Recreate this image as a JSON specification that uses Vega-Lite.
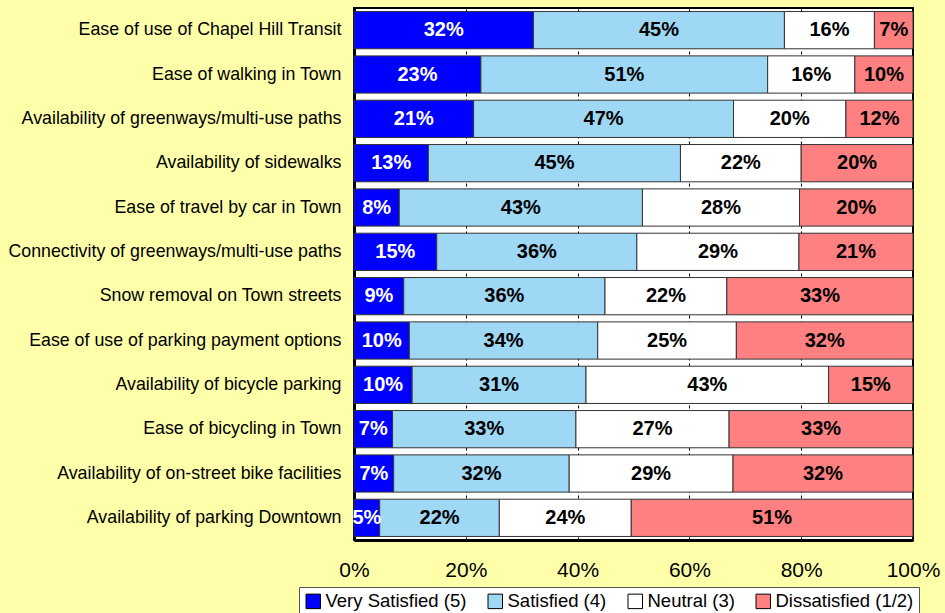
{
  "$schema": "https://vega.github.io/schema/vega-lite/v6.json",
  "autosize": {"type": "none"},
  "padding": {"left": 354, "top": 8, "right": 32, "bottom": 73},
  "width": 559,
  "height": 532,
  "background": "#FFFFAA",
  "config": {
    "font": "Liberation Sans",
    "view": {"fill": "white", "stroke": "black", "strokeWidth": 2}
  },
  "data": {
    "values": [
      {"item": "Ease of use of Chapel Hill Transit", "group": "Very Satisfied (5)", "value": 32.1, "label": "32%"},
      {"item": "Ease of use of Chapel Hill Transit", "group": "Satisfied (4)", "value": 44.9, "label": "45%"},
      {"item": "Ease of use of Chapel Hill Transit", "group": "Neutral (3)", "value": 16.1, "label": "16%"},
      {"item": "Ease of use of Chapel Hill Transit", "group": "Dissatisfied (1/2)", "value": 6.9, "label": "7%"},
      {"item": "Ease of walking in Town", "group": "Very Satisfied (5)", "value": 22.7, "label": "23%"},
      {"item": "Ease of walking in Town", "group": "Satisfied (4)", "value": 51.3, "label": "51%"},
      {"item": "Ease of walking in Town", "group": "Neutral (3)", "value": 15.6, "label": "16%"},
      {"item": "Ease of walking in Town", "group": "Dissatisfied (1/2)", "value": 10.4, "label": "10%"},
      {"item": "Availability of greenways/multi-use paths", "group": "Very Satisfied (5)", "value": 21.4, "label": "21%"},
      {"item": "Availability of greenways/multi-use paths", "group": "Satisfied (4)", "value": 46.5, "label": "47%"},
      {"item": "Availability of greenways/multi-use paths", "group": "Neutral (3)", "value": 20.1, "label": "20%"},
      {"item": "Availability of greenways/multi-use paths", "group": "Dissatisfied (1/2)", "value": 12.0, "label": "12%"},
      {"item": "Availability of sidewalks", "group": "Very Satisfied (5)", "value": 13.3, "label": "13%"},
      {"item": "Availability of sidewalks", "group": "Satisfied (4)", "value": 45.1, "label": "45%"},
      {"item": "Availability of sidewalks", "group": "Neutral (3)", "value": 21.6, "label": "22%"},
      {"item": "Availability of sidewalks", "group": "Dissatisfied (1/2)", "value": 20.0, "label": "20%"},
      {"item": "Ease of travel by car in Town", "group": "Very Satisfied (5)", "value": 8.1, "label": "8%"},
      {"item": "Ease of travel by car in Town", "group": "Satisfied (4)", "value": 43.5, "label": "43%"},
      {"item": "Ease of travel by car in Town", "group": "Neutral (3)", "value": 28.1, "label": "28%"},
      {"item": "Ease of travel by car in Town", "group": "Dissatisfied (1/2)", "value": 20.3, "label": "20%"},
      {"item": "Connectivity of greenways/multi-use paths", "group": "Very Satisfied (5)", "value": 14.8, "label": "15%"},
      {"item": "Connectivity of greenways/multi-use paths", "group": "Satisfied (4)", "value": 35.8, "label": "36%"},
      {"item": "Connectivity of greenways/multi-use paths", "group": "Neutral (3)", "value": 29.0, "label": "29%"},
      {"item": "Connectivity of greenways/multi-use paths", "group": "Dissatisfied (1/2)", "value": 20.4, "label": "21%"},
      {"item": "Snow removal on Town streets", "group": "Very Satisfied (5)", "value": 8.9, "label": "9%"},
      {"item": "Snow removal on Town streets", "group": "Satisfied (4)", "value": 36.0, "label": "36%"},
      {"item": "Snow removal on Town streets", "group": "Neutral (3)", "value": 21.8, "label": "22%"},
      {"item": "Snow removal on Town streets", "group": "Dissatisfied (1/2)", "value": 33.3, "label": "33%"},
      {"item": "Ease of use of parking payment options", "group": "Very Satisfied (5)", "value": 9.9, "label": "10%"},
      {"item": "Ease of use of parking payment options", "group": "Satisfied (4)", "value": 33.7, "label": "34%"},
      {"item": "Ease of use of parking payment options", "group": "Neutral (3)", "value": 24.8, "label": "25%"},
      {"item": "Ease of use of parking payment options", "group": "Dissatisfied (1/2)", "value": 31.6, "label": "32%"},
      {"item": "Availability of bicycle parking", "group": "Very Satisfied (5)", "value": 10.4, "label": "10%"},
      {"item": "Availability of bicycle parking", "group": "Satisfied (4)", "value": 31.1, "label": "31%"},
      {"item": "Availability of bicycle parking", "group": "Neutral (3)", "value": 43.4, "label": "43%"},
      {"item": "Availability of bicycle parking", "group": "Dissatisfied (1/2)", "value": 15.1, "label": "15%"},
      {"item": "Ease of bicycling in Town", "group": "Very Satisfied (5)", "value": 6.9, "label": "7%"},
      {"item": "Ease of bicycling in Town", "group": "Satisfied (4)", "value": 32.8, "label": "33%"},
      {"item": "Ease of bicycling in Town", "group": "Neutral (3)", "value": 27.4, "label": "27%"},
      {"item": "Ease of bicycling in Town", "group": "Dissatisfied (1/2)", "value": 32.9, "label": "33%"},
      {"item": "Availability of on-street bike facilities", "group": "Very Satisfied (5)", "value": 7.1, "label": "7%"},
      {"item": "Availability of on-street bike facilities", "group": "Satisfied (4)", "value": 31.4, "label": "32%"},
      {"item": "Availability of on-street bike facilities", "group": "Neutral (3)", "value": 29.3, "label": "29%"},
      {"item": "Availability of on-street bike facilities", "group": "Dissatisfied (1/2)", "value": 32.2, "label": "32%"},
      {"item": "Availability of parking Downtown", "group": "Very Satisfied (5)", "value": 4.6, "label": "5%"},
      {"item": "Availability of parking Downtown", "group": "Satisfied (4)", "value": 21.4, "label": "22%"},
      {"item": "Availability of parking Downtown", "group": "Neutral (3)", "value": 23.6, "label": "24%"},
      {"item": "Availability of parking Downtown", "group": "Dissatisfied (1/2)", "value": 50.4, "label": "51%"}
    ]
  },
  "transform": [
    {"stack": "value", "groupby": ["item"], "sort": [{"field": "group", "order": "descending"}], "as": ["x0", "x1"]}
  ],
  "encoding": {
    "y": {
      "field": "item", "type": "nominal", "sort": null, "title": null,
      "scale": {"paddingInner": 0.16, "paddingOuter": 0.08},
      "axis": {"labelFontSize": 17.8, "labelColor": "#000000", "labelPadding": 13, "ticks": false, "domainColor": "black", "domainWidth": 3, "labelLimit": 400}
    }
  },
  "layer": [
    {
      "mark": {"type": "bar", "stroke": "#333333", "strokeWidth": 1},
      "encoding": {
        "x": {
          "field": "x0", "type": "quantitative", "title": null,
          "scale": {"domain": [0, 100], "nice": false},
          "axis": {"values": [0, 20, 40, 60, 80, 100], "labelExpr": "datum.value + '%'", "labelFontSize": 21, "labelColor": "#000000", "labelPadding": 19, "ticks": false, "domainColor": "black", "domainWidth": 3, "grid": true, "gridColor": "#000000", "gridDash": [3, 3], "gridWidth": 1, "labelFlush": false}
        },
        "x2": {"field": "x1"},
        "color": {
          "field": "group", "type": "nominal", "title": null,
          "scale": {
            "domain": ["Very Satisfied (5)", "Satisfied (4)", "Neutral (3)", "Dissatisfied (1/2)"],
            "range": ["#0000FF", "#9FD8F5", "#FFFFFF", "#FF8080"]
          },
          "legend": {
            "orient": "none", "direction": "horizontal", "columns": 4,
            "legendX": -55, "legendY": 579,
            "symbolType": "square", "symbolSize": 210, "symbolStrokeColor": "#000000", "symbolStrokeWidth": 1, "symbolOpacity": 1,
            "labelFontSize": 18.5, "labelColor": "#000000", "labelOffset": 3, "columnPadding": 19,
            "strokeColor": "#555555", "fillColor": "#FFFFFF", "padding": 5
          }
        }
      }
    },
    {
      "transform": [
        {"fold": ["x0", "x1"], "as": ["edge", "pos"]},
        {"aggregate": [{"op": "mean", "field": "pos", "as": "mid"}], "groupby": ["item", "group", "label"]}
      ],
      "mark": {"type": "text", "fontSize": 20, "fontWeight": "bold"},
      "encoding": {
        "x": {"field": "mid", "type": "quantitative"},
        "text": {"field": "label"},
        "color": {
          "condition": {"test": "datum.group === 'Very Satisfied (5)'", "value": "#FFFFFF"},
          "value": "#000000"
        }
      }
    }
  ]
}
